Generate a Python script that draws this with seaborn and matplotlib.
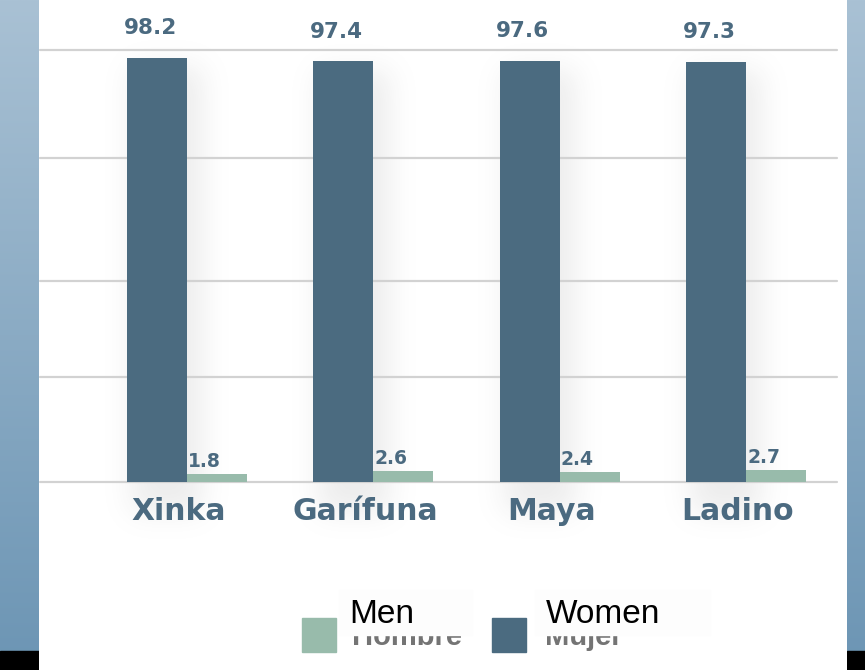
import numpy as np
import pandas as pd
import matplotlib
matplotlib.use("Agg")
import matplotlib.pyplot as plt
import matplotlib.transforms as mtransforms
from matplotlib.patches import Rectangle
import seaborn as sns

# ---------------------------------------------------------------------------
# Data
# ---------------------------------------------------------------------------
groups = ["Xinka", "Garífuna", "Maya", "Ladino"]
women = [98.2, 97.4, 97.6, 97.3]
men = [1.8, 2.6, 2.4, 2.7]
grid_values = [0, 24.3, 46.5, 75, 100]
legend_labels = ["Men", "Women"]
legend_hidden = ["Hombre", "Mujer"]

WOMEN_COLOR = "#4b6b80"
MEN_COLOR = "#98bbab"
TEXT_COLOR = "#4b6a80"

W, H, DPI = 865, 670, 100


def px(x0, y0, w, h):
    """pixel box (top-left origin) -> figure fraction rect"""
    return [x0 / W, 1 - (y0 + h) / H, w / W, h / H]


def side_strip(fig, x0, w):
    sax = fig.add_axes(px(x0, 0, w, H))
    top = np.array([169, 193, 212]) / 255
    bottom = np.array([108, 149, 180]) / 255
    t = np.linspace(0, 1, 256)[:, None]
    grad = top + (bottom - top) * t
    sax.imshow(grad[:, None, :], aspect="auto", extent=(0, 1, 0, 1))
    sax.add_patch(Rectangle((0, 0), 1, 19 / H, color="black"))
    sax.set_xlim(0, 1)
    sax.set_ylim(0, 1)
    sax.axis("off")


def blur(a, sigma):
    k = np.arange(-3 * sigma, 3 * sigma + 1)
    k = np.exp(-0.5 * (k / sigma) ** 2)
    k /= k.sum()
    a = np.apply_along_axis(lambda r: np.convolve(r, k, mode="same"), 1, a)
    a = np.apply_along_axis(lambda c: np.convolve(c, k, mode="same"), 0, a)
    return a


def soft_shadow(fig, ax, bars):
    # faint blurred grey glow behind the tall bars, like the source image
    fig.canvas.draw()
    mask = np.zeros((H, W))
    for bar in bars:
        bb = bar.get_window_extent()
        x0, x1 = int(bb.x0) + 6, int(bb.x1) + 16
        y0, y1 = int(H - bb.y1) + 10, int(H - bb.y0) + 30
        mask[max(y0, 0):min(y1, H), max(x0, 0):min(x1, W)] = 1.0
    mask = blur(mask, 14)
    rgba = np.zeros((H, W, 4))
    rgba[..., :3] = 0.55
    rgba[..., 3] = 0.16 * mask
    bg = fig.add_axes([0, 0, 1, 1], zorder=-1)
    bg.imshow(rgba, aspect="auto", extent=(0, 1, 0, 1))
    bg.set_xlim(0, 1)
    bg.set_ylim(0, 1)
    bg.axis("off")


def main():
    sns.set_theme(style="white")
    plt.rcParams["font.family"] = ["DejaVu Sans"]

    df = pd.DataFrame({
        "group": groups * 2,
        "sex": ["Women"] * len(groups) + ["Men"] * len(groups),
        "value": women + men,
    })

    fig = plt.figure(figsize=(W / DPI, H / DPI), dpi=DPI)
    fig.patch.set_facecolor("white")

    # plot area: baseline at y=482 px, 4.318 px per unit
    ax = fig.add_axes(px(40, 0, 797, 482))
    sns.barplot(
        data=df, x="group", y="value", hue="sex",
        hue_order=["Women", "Men"],
        palette={"Women": WOMEN_COLOR, "Men": MEN_COLOR},
        width=0.645, errorbar=None, legend=False, ax=ax,
        saturation=1, linewidth=0,
    )
    ax.set_xlim(-0.789, 3.489)
    ax.set_ylim(0, 482 / 4.318)
    ax.set_facecolor("none")
    for s in ax.spines.values():
        s.set_visible(False)

    ax.set_yticks(grid_values)
    ax.set_yticklabels([])
    ax.tick_params(axis="y", length=0)
    ax.set_axisbelow(True)
    ax.yaxis.grid(True, color="#d2d2d2", linewidth=1.6)
    for gl in ax.get_ygridlines():
        gl.set_clip_on(False)

    ax.set_xlabel("")
    ax.set_ylabel("")
    ax.tick_params(axis="x", length=0, pad=10.5)
    ax.set_xticks(range(len(groups)))
    ax.set_xticklabels(groups, fontsize=21.5, fontweight="bold", color=TEXT_COLOR)
    shift = mtransforms.ScaledTranslation(-8 / DPI, 0, fig.dpi_scale_trans)
    for lab in ax.get_xticklabels():
        lab.set_transform(lab.get_transform() + shift)

    # value labels
    women_bars, men_bars = ax.containers[0], ax.containers[1]
    for bar in women_bars:
        ax.annotate(
            f"{bar.get_height():.1f}",
            (bar.get_x() + bar.get_width() / 2, bar.get_height()),
            xytext=(-5, 17), textcoords="offset points",
            ha="center", va="baseline", fontsize=15.5,
            fontweight="heavy", color=TEXT_COLOR,
        )
    for bar in men_bars:
        ax.annotate(
            f"{bar.get_height():.1f}",
            (bar.get_x(), bar.get_height()),
            xytext=(1, 5), textcoords="offset points",
            ha="left", va="baseline", fontsize=13.5,
            fontweight="heavy", color=TEXT_COLOR,
        )

    # legend drawn at the bottom: squares, faded original words, overlay words
    swatches = [(302, MEN_COLOR), (492, WOMEN_COLOR)]
    hidden_x = [352, 545]
    boxes = [(339, 133), (535, 175)]
    label_x = [349, 546]
    for i in range(2):
        sx, col = swatches[i]
        fig.patches.append(Rectangle(
            (sx / W, 1 - 652 / H), 34 / W, 34 / H,
            transform=fig.transFigure, color=col, zorder=3))
        fig.text(hidden_x[i] / W, 1 - 645 / H, legend_hidden[i],
                 fontsize=21, color="#747474", family="Liberation Sans",
                 fontweight="bold", va="baseline", zorder=3)
        bx, bw = boxes[i]
        fig.patches.append(Rectangle(
            (bx / W, 1 - 635 / H), bw / W, 45 / H,
            transform=fig.transFigure, color="#fdfdfd", zorder=4))
        fig.text(label_x[i] / W, 1 - 623 / H, legend_labels[i],
                 fontsize=24, color="black", family="Liberation Sans",
                 va="baseline", zorder=5)

    soft_shadow(fig, ax, women_bars)
    side_strip(fig, 0, 39)
    side_strip(fig, 847, 18)

    fig.savefig("out.png", dpi=DPI)


if __name__ == "__main__":
    main()
